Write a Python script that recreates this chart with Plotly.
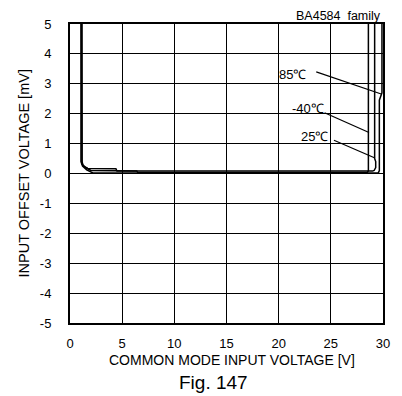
import plotly.graph_objects as go

# x: common mode input voltage [V], y: input offset voltage [mV]
x_25 = [1.1, 1.1, 1.15, 1.3, 1.7, 4.4, 4.5, 29.0, 29.15, 29.3, 29.3, 29.2, 29.2]
y_25 = [5.0, 0.45, 0.32, 0.25, 0.17, 0.16, 0.08, 0.08, 0.1, 0.2, 0.4, 0.5, 5.0]

x_m40 = [1.15, 1.15, 1.25, 1.5, 2.0, 6.4, 6.5, 28.5, 28.6, 28.6]
y_m40 = [5.0, 0.4, 0.28, 0.2, 0.1, 0.08, 0.03, 0.03, 0.1, 5.0]

x_85 = [1.05, 1.05, 1.2, 1.6, 2.2, 29.55, 29.65, 29.65, 29.9, 29.9]
y_85 = [5.0, 0.4, 0.25, 0.12, 0.02, 0.02, 0.1, 2.45, 2.7, 5.0]

labels = ["85℃", "-40℃", "25℃"]
label_x = [21.3, 22.8, 23.4]
label_y = [3.3, 2.19, 1.24]
ptr_x0 = [23.6, 24.4, 25.3]
ptr_y0 = [3.4, 2.03, 1.11]
ptr_x1 = [29.9, 28.66, 29.23]
ptr_y1 = [2.65, 1.37, 0.52]

x_ticks = [0, 5, 10, 15, 20, 25, 30]
y_ticks = [5, 4, 3, 2, 1, 0, -1, -2, -3, -4, -5]
y_tick_labels = ["5", "4", "3", "2", "1", "0", "-1", "-2", "-3", "-4", "-5"]

FONT = "Liberation Sans, Arial, sans-serif"

fig = go.Figure()
for xs, ys in [(x_25, y_25), (x_m40, y_m40), (x_85, y_85)]:
    fig.add_trace(go.Scatter(x=xs, y=ys, mode="lines",
                             line=dict(color="black", width=1.5),
                             showlegend=False, hoverinfo="skip"))
for i in range(len(labels)):
    fig.add_trace(go.Scatter(x=[ptr_x0[i], ptr_x1[i]], y=[ptr_y0[i], ptr_y1[i]],
                             mode="lines", line=dict(color="black", width=1.2),
                             showlegend=False, hoverinfo="skip"))
    fig.add_annotation(x=label_x[i], y=label_y[i], text=labels[i], showarrow=False,
                       font=dict(family=FONT, size=13, color="black"))

fig.add_annotation(xref="paper", yref="paper", x=1.0, y=1.027, xanchor="right",
                   yanchor="middle", text="BA4584  family", showarrow=False,
                   font=dict(family=FONT, size=12.5, color="black"))
fig.add_annotation(xref="paper", yref="paper", x=0.518, y=-0.124, xanchor="center",
                   yanchor="middle", text="COMMON MODE INPUT VOLTAGE [V]", showarrow=False,
                   font=dict(family=FONT, size=14, color="black"))
fig.add_annotation(xref="paper", yref="paper", x=0.46, y=-0.2, xanchor="center",
                   yanchor="middle", text="Fig. 147", showarrow=False,
                   font=dict(family=FONT, size=19, color="black"))
fig.add_annotation(xref="paper", yref="paper", x=-0.147, y=0.5, xanchor="center",
                   yanchor="middle", textangle=-90, text="INPUT OFFSET VOLTAGE [mV]",
                   showarrow=False, font=dict(family=FONT, size=14.5, color="black"))

fig.update_xaxes(range=[0, 30], tickvals=x_ticks, showgrid=True, gridcolor="black",
                 gridwidth=1, showline=True, linecolor="black", linewidth=2, mirror=True,
                 ticks="", zeroline=False, tickfont=dict(family=FONT, size=13, color="black"),
                 ticklabelstandoff=7)
fig.update_yaxes(range=[-5, 5], tickvals=y_ticks, ticktext=y_tick_labels, showgrid=True,
                 gridcolor="black", gridwidth=1, showline=True, linecolor="black",
                 linewidth=2, mirror=True, ticks="inside", ticklen=5, tickcolor="black",
                 zeroline=False, tickfont=dict(family=FONT, size=13, color="black"),
                 ticklabelstandoff=14)

# page body adds an 8px offset, so the figure is 8px smaller and shifted
fig.update_layout(width=394, height=388, margin=dict(l=62, r=19, t=9, b=73),
                  plot_bgcolor="white", paper_bgcolor="white",
                  font=dict(family=FONT, color="black"))

fig.write_html("out.html")
